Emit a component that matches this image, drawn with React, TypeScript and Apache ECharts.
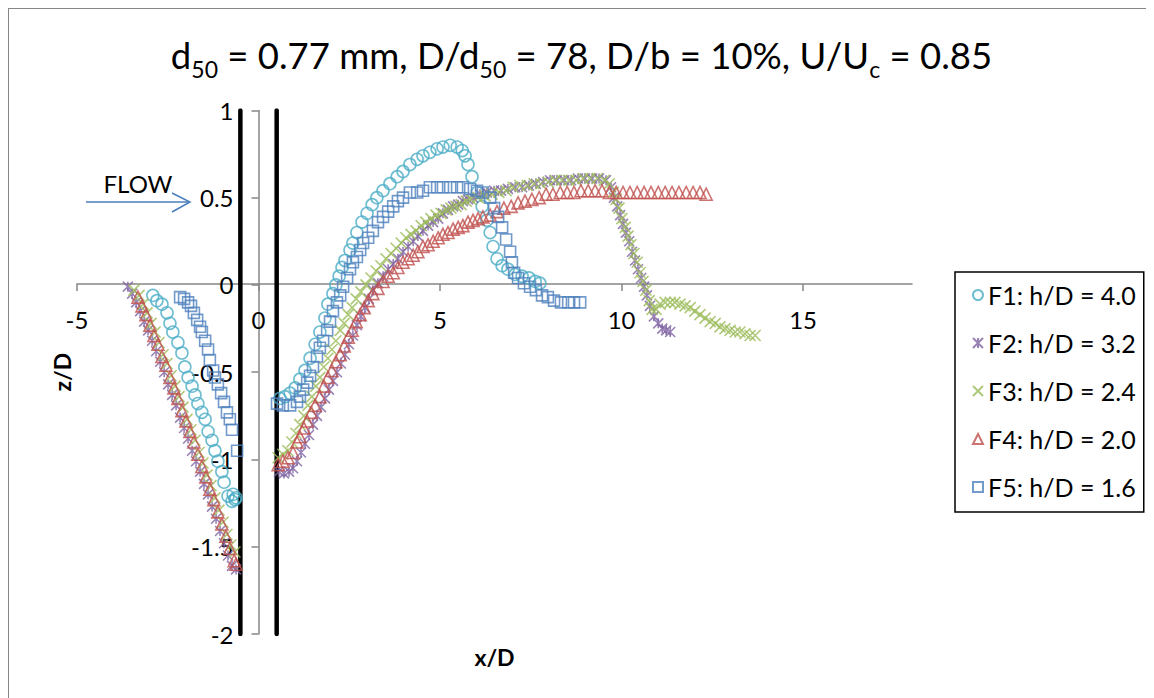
import React, { useEffect, useRef } from "react";
import * as echarts from "echarts";

// ---------- data (x/D, z/D) ----------
const f1Up: number[][] = [
  [-2.91, -0.06], [-2.8, -0.09], [-2.66, -0.11], [-2.52, -0.16], [-2.44, -0.22], [-2.36, -0.27],
  [-2.22, -0.33], [-2.11, -0.39], [-2.03, -0.47], [-1.94, -0.53], [-1.83, -0.58], [-1.75, -0.63],
  [-1.67, -0.68], [-1.56, -0.73], [-1.47, -0.77], [-1.39, -0.84], [-1.28, -0.89], [-1.2, -0.95],
  [-1.12, -1.01], [-1.01, -1.07], [-0.95, -1.13], [-0.84, -1.21], [-0.73, -1.24], [-0.7, -1.2],
  [-0.65, -1.23], [-0.62, -1.22],
];
const f1Down: number[][] = [
  [0.59, -0.65], [0.73, -0.64], [0.87, -0.62], [1.01, -0.59], [1.14, -0.54], [1.28, -0.49],
  [1.42, -0.42], [1.56, -0.34], [1.69, -0.27], [1.83, -0.19], [1.91, -0.11], [2.05, -0.05],
  [2.13, 0.0], [2.22, 0.05], [2.3, 0.1], [2.38, 0.14], [2.52, 0.2], [2.6, 0.24], [2.71, 0.3],
  [2.85, 0.36], [2.99, 0.41], [3.13, 0.46], [3.26, 0.5], [3.43, 0.54], [3.62, 0.58], [3.82, 0.62],
  [3.98, 0.65], [4.17, 0.69], [4.37, 0.72], [4.53, 0.74], [4.72, 0.76], [4.92, 0.78], [5.08, 0.79],
  [5.28, 0.8], [5.47, 0.79], [5.61, 0.77], [5.69, 0.74], [5.77, 0.69], [5.88, 0.62], [6.02, 0.53],
  [6.16, 0.45], [6.29, 0.37], [6.38, 0.3], [6.46, 0.22], [6.57, 0.15], [6.71, 0.11], [6.87, 0.09],
  [7.07, 0.06], [7.26, 0.05], [7.45, 0.04], [7.62, 0.02], [7.75, 0.01],
];
const f2Up: number[][] = [
  [-3.6, -0.01], [-3.48, -0.05], [-3.37, -0.1], [-3.26, -0.15], [-3.15, -0.21], [-3.04, -0.26],
  [-2.93, -0.32], [-2.82, -0.38], [-2.71, -0.44], [-2.6, -0.5], [-2.49, -0.57], [-2.38, -0.63],
  [-2.27, -0.69], [-2.16, -0.76], [-2.05, -0.82], [-1.94, -0.88], [-1.83, -0.95], [-1.72, -1.01],
  [-1.61, -1.07], [-1.5, -1.14], [-1.39, -1.2], [-1.28, -1.27], [-1.17, -1.34], [-1.06, -1.41],
  [-0.95, -1.48], [-0.84, -1.55], [-0.73, -1.61], [-0.62, -1.63],
];
const f2Down: number[][] = [
  [0.56, -1.07], [0.7, -1.08], [0.84, -1.07], [0.95, -1.05], [1.06, -1.01], [1.17, -0.96],
  [1.28, -0.91], [1.39, -0.86], [1.5, -0.8], [1.61, -0.75], [1.72, -0.7], [1.83, -0.65],
  [1.94, -0.6], [2.05, -0.55], [2.16, -0.5], [2.27, -0.45], [2.38, -0.4], [2.49, -0.34],
  [2.6, -0.29], [2.71, -0.23], [2.82, -0.18], [2.93, -0.13], [3.04, -0.08], [3.15, -0.03],
  [3.29, 0.01], [3.43, 0.05], [3.57, 0.09], [3.71, 0.12], [3.84, 0.15], [3.98, 0.19], [4.12, 0.22],
  [4.26, 0.25], [4.39, 0.28], [4.53, 0.31], [4.67, 0.34], [4.81, 0.36], [4.95, 0.38], [5.08, 0.41],
  [5.22, 0.43], [5.36, 0.45], [5.5, 0.46], [5.63, 0.48], [5.77, 0.49], [5.91, 0.5], [6.1, 0.52],
  [6.29, 0.53], [6.49, 0.54], [6.68, 0.54], [6.87, 0.55], [7.07, 0.56], [7.26, 0.56], [7.45, 0.57],
  [7.64, 0.58], [7.84, 0.59], [8.03, 0.6], [8.22, 0.6], [8.42, 0.6], [8.61, 0.6], [8.8, 0.61],
  [8.99, 0.61], [9.19, 0.61], [9.38, 0.61], [9.57, 0.6], [9.71, 0.56], [9.79, 0.5], [9.88, 0.45],
  [9.96, 0.4], [10.04, 0.35], [10.12, 0.3], [10.21, 0.25], [10.29, 0.19], [10.37, 0.14],
  [10.45, 0.09], [10.54, 0.04], [10.62, -0.01], [10.7, -0.06], [10.78, -0.12], [10.89, -0.18],
  [11.01, -0.22], [11.12, -0.25], [11.23, -0.26], [11.34, -0.27],
];
const f3Up: number[][] = [
  [-3.43, -0.03], [-3.29, -0.06], [-3.18, -0.11], [-3.07, -0.16], [-2.96, -0.22], [-2.85, -0.27],
  [-2.74, -0.33], [-2.63, -0.4], [-2.52, -0.45], [-2.41, -0.52], [-2.3, -0.58], [-2.19, -0.64],
  [-2.08, -0.7], [-1.97, -0.77], [-1.86, -0.83], [-1.75, -0.89], [-1.64, -0.96], [-1.53, -1.02],
  [-1.42, -1.09], [-1.31, -1.15], [-1.2, -1.22], [-1.09, -1.29], [-0.98, -1.36], [-0.87, -1.43],
  [-0.76, -1.49], [-0.65, -1.53],
];
const f3Down: number[][] = [
  [0.54, -0.99], [0.67, -0.97], [0.81, -0.95], [0.92, -0.9], [1.03, -0.85], [1.14, -0.8],
  [1.25, -0.75], [1.36, -0.69], [1.47, -0.64], [1.58, -0.58], [1.69, -0.53], [1.8, -0.47],
  [1.91, -0.42], [2.02, -0.37], [2.13, -0.32], [2.25, -0.26], [2.36, -0.22], [2.47, -0.17],
  [2.58, -0.13], [2.69, -0.08], [2.82, -0.04], [2.96, 0.0], [3.1, 0.04], [3.24, 0.08], [3.37, 0.11],
  [3.51, 0.15], [3.65, 0.18], [3.79, 0.21], [3.93, 0.24], [4.06, 0.27], [4.2, 0.29], [4.34, 0.31],
  [4.48, 0.34], [4.61, 0.36], [4.75, 0.38], [4.89, 0.4], [5.03, 0.41], [5.17, 0.43], [5.3, 0.44],
  [5.44, 0.45], [5.58, 0.46], [5.72, 0.48], [5.85, 0.49], [6.05, 0.5], [6.24, 0.51], [6.43, 0.52],
  [6.62, 0.53], [6.82, 0.54], [7.01, 0.56], [7.2, 0.57], [7.4, 0.57], [7.59, 0.58], [7.78, 0.58],
  [7.98, 0.59], [8.17, 0.6], [8.36, 0.6], [8.55, 0.6], [8.75, 0.6], [8.94, 0.61], [9.13, 0.61],
  [9.33, 0.61], [9.52, 0.6], [9.66, 0.58], [9.77, 0.53], [9.85, 0.49], [9.93, 0.44], [10.01, 0.38],
  [10.1, 0.33], [10.18, 0.28], [10.26, 0.23], [10.34, 0.18], [10.43, 0.13], [10.51, 0.07],
  [10.59, 0.02], [10.67, -0.03], [10.76, -0.09], [10.84, -0.14], [10.95, -0.14], [11.06, -0.11],
  [11.2, -0.1], [11.34, -0.1], [11.47, -0.1], [11.61, -0.11], [11.75, -0.12], [11.89, -0.13],
  [12.02, -0.15], [12.16, -0.17], [12.3, -0.19], [12.44, -0.21], [12.58, -0.22], [12.71, -0.24],
  [12.85, -0.25], [12.99, -0.26], [13.13, -0.27], [13.26, -0.27], [13.4, -0.28], [13.54, -0.29],
  [13.68, -0.29],
];
const f4Up: number[][] = [
  [-3.32, -0.07], [-3.21, -0.12], [-3.1, -0.17], [-2.99, -0.23], [-2.88, -0.29], [-2.77, -0.34],
  [-2.66, -0.41], [-2.55, -0.46], [-2.44, -0.53], [-2.33, -0.59], [-2.22, -0.65], [-2.11, -0.72],
  [-2.0, -0.78], [-1.89, -0.84], [-1.78, -0.9], [-1.67, -0.97], [-1.56, -1.04], [-1.45, -1.1],
  [-1.34, -1.17], [-1.23, -1.23], [-1.12, -1.3], [-1.01, -1.37], [-0.9, -1.44], [-0.79, -1.51],
  [-0.67, -1.58], [-0.62, -1.6],
];
const f4Down: number[][] = [
  [0.54, -1.03], [0.67, -1.01], [0.81, -0.99], [0.95, -0.96], [1.06, -0.9], [1.14, -0.87],
  [1.25, -0.82], [1.34, -0.78], [1.45, -0.73], [1.56, -0.69], [1.69, -0.64], [1.8, -0.58],
  [1.91, -0.53], [2.02, -0.49], [2.13, -0.44], [2.25, -0.4], [2.36, -0.35], [2.47, -0.3],
  [2.58, -0.26], [2.69, -0.21], [2.8, -0.17], [2.91, -0.13], [3.02, -0.09], [3.15, -0.05],
  [3.29, -0.02], [3.43, 0.02], [3.57, 0.05], [3.71, 0.07], [3.84, 0.1], [3.98, 0.13], [4.12, 0.15],
  [4.26, 0.17], [4.39, 0.19], [4.53, 0.22], [4.67, 0.23], [4.81, 0.25], [4.95, 0.27], [5.08, 0.29],
  [5.22, 0.3], [5.36, 0.32], [5.5, 0.33], [5.63, 0.34], [5.77, 0.36], [5.91, 0.37], [6.05, 0.38],
  [6.18, 0.39], [6.38, 0.4], [6.57, 0.42], [6.76, 0.44], [6.96, 0.45], [7.15, 0.47], [7.34, 0.48],
  [7.53, 0.49], [7.73, 0.5], [7.92, 0.52], [8.11, 0.52], [8.31, 0.53], [8.5, 0.53], [8.69, 0.53],
  [8.88, 0.54], [9.08, 0.54], [9.27, 0.54], [9.46, 0.54], [9.66, 0.53], [9.85, 0.53], [10.04, 0.53],
  [10.23, 0.53], [10.43, 0.53], [10.62, 0.53], [10.81, 0.53], [11.01, 0.53], [11.2, 0.53],
  [11.39, 0.53], [11.58, 0.53], [11.78, 0.53], [11.97, 0.53], [12.16, 0.53], [12.33, 0.52],
];
const f5Up: number[][] = [
  [-2.16, -0.07], [-2.05, -0.08], [-1.94, -0.1], [-1.86, -0.12], [-1.78, -0.16], [-1.69, -0.2],
  [-1.61, -0.24], [-1.56, -0.27], [-1.47, -0.32], [-1.39, -0.37], [-1.34, -0.43], [-1.25, -0.49],
  [-1.2, -0.53], [-1.12, -0.57], [-1.03, -0.62], [-0.95, -0.67], [-0.87, -0.73], [-0.79, -0.77],
  [-0.73, -0.83], [-0.59, -0.95],
];
const f5Down: number[][] = [
  [0.51, -0.68], [0.67, -0.69], [0.87, -0.69], [1.06, -0.67], [1.14, -0.64], [1.23, -0.6],
  [1.34, -0.56], [1.42, -0.52], [1.5, -0.47], [1.61, -0.41], [1.69, -0.36], [1.78, -0.32],
  [1.89, -0.26], [1.97, -0.21], [2.05, -0.15], [2.16, -0.1], [2.25, -0.06], [2.33, -0.01],
  [2.44, 0.04], [2.52, 0.09], [2.6, 0.13], [2.71, 0.16], [2.8, 0.2], [2.88, 0.24], [3.02, 0.27],
  [3.15, 0.31], [3.29, 0.36], [3.43, 0.39], [3.57, 0.42], [3.71, 0.45], [3.84, 0.48], [3.98, 0.5],
  [4.17, 0.53], [4.37, 0.53], [4.53, 0.54], [4.72, 0.56], [4.92, 0.56], [5.08, 0.56], [5.28, 0.56],
  [5.47, 0.56], [5.63, 0.56], [5.83, 0.55], [6.02, 0.54], [6.18, 0.53], [6.38, 0.5], [6.49, 0.44],
  [6.6, 0.39], [6.71, 0.33], [6.82, 0.26], [6.93, 0.19], [6.98, 0.13], [7.04, 0.07], [7.15, 0.04],
  [7.31, 0.01], [7.48, -0.01], [7.64, -0.03], [7.81, -0.06], [7.97, -0.07], [8.14, -0.09],
  [8.33, -0.1], [8.53, -0.1], [8.69, -0.1], [8.86, -0.1],
];

const seriesNames = [
  "F1: h/D = 4.0",
  "F2: h/D = 3.2",
  "F3: h/D = 2.4",
  "F4: h/D = 2.0",
  "F5: h/D = 1.6",
];
const seriesColors = ["#4BACC6", "#8064A2", "#9BBB59", "#C0504D", "#4F81BD"];
const pierLeft: number[][] = [[-0.5, 1], [-0.5, -2]];
const pierRight: number[][] = [[0.5, 1], [0.5, -2]];
const xTicks = [-5, 0, 5, 10, 15];

const FONT = "Lato, 'Open Sans', sans-serif";

export default function App() {
  const ref = useRef<HTMLDivElement>(null);
  useEffect(() => {
    if (!ref.current) return;
    const chart = echarts.init(ref.current, undefined, { renderer: "svg" });
    const symbols = [
      "circle",
      "path://M0,0L10,10M10,0L0,10M5,0L5,10",
      "path://M0,0L10,10M10,0L0,10",
      "triangle",
      "rect",
    ];
    const sizes = [12, 10, 11, 12, 11];
    const dataSets = [
      [...f1Up, ...f1Down],
      [...f2Up, ...f2Down],
      [...f3Up, ...f3Down],
      [...f4Up, ...f4Down],
      [...f5Up, ...f5Down],
    ];
    const scatter = seriesNames.map((name, i) => ({
      name,
      type: "scatter",
      data: dataSets[i],
      symbol: symbols[i],
      symbolSize: sizes[i],
      silent: true,
      itemStyle: {
        color: "rgba(0,0,0,0)",
        borderColor: seriesColors[i],
        borderWidth: 1.6,
      },
    }));
    const pier = [pierLeft, pierRight].map((d, i) => ({
      name: "pier" + i,
      type: "line",
      data: d,
      symbol: "none",
      silent: true,
      lineStyle: { color: "#000", width: 4.5, cap: "round" },
      z: 1,
    }));
    chart.setOption({
      animation: false,
      backgroundColor: "#fff",
      textStyle: { fontFamily: FONT },
      title: {
        left: "center",
        top: 16,
        text:
          "{a|d}{s|50}{a| = 0.77 mm, D/d}{s|50}{a| = 78, D/b = 10%, U/U}{s|c}{a| = 0.85}",
        textStyle: {
          fontWeight: "normal",
          rich: {
            a: { fontSize: 36.5, fontWeight: "normal", fontFamily: FONT, color: "#000", lineHeight: 50, verticalAlign: "middle" },
            s: { fontSize: 23, fontWeight: "normal", fontFamily: FONT, color: "#000", lineHeight: 50, verticalAlign: "bottom" },
          },
        },
      },
      legend: {
        orient: "vertical",
        left: 946,
        top: 263,
        itemGap: 23,
        itemWidth: 10,
        itemHeight: 10,
        padding: [10.5, 8, 12.5, 17],
        borderColor: "#000",
        borderWidth: 1.5,
        textStyle: { fontSize: 25, color: "#000", fontFamily: FONT },
        data: seriesNames,
      },
      grid: {
        left: 68,
        right: 242,
        top: 101.4,
        bottom: 64,
        outerBoundsMode: "none",
      },
      xAxis: {
        type: "value",
        position: "bottom",
        offset: -350,
        min: -5,
        max: 18,
        interval: 5,
        name: "x/D",
        nameLocation: "middle",
        nameGap: 361,
        nameTextStyle: { fontSize: 23, fontWeight: "bold", color: "#000", fontFamily: FONT },
        axisLine: { onZero: false, lineStyle: { color: "#868686", width: 1.5 } },
        axisTick: { show: true, length: 7, customValues: xTicks, lineStyle: { color: "#868686", width: 1.5 } },
        axisLabel: { margin: 23, fontSize: 24, color: "#000", fontFamily: FONT, customValues: xTicks },
        splitLine: { show: false },
      },
      yAxis: {
        type: "value",
        position: "left",
        offset: -181.5,
        min: -2,
        max: 1,
        interval: 0.5,
        name: "z/D",
        nameLocation: "middle",
        nameGap: 185,
        nameTextStyle: { fontSize: 23, fontWeight: "bold", color: "#000", fontFamily: FONT },
        axisLine: { onZero: false, lineStyle: { color: "#868686", width: 1.5 } },
        axisTick: { show: true, length: 7, lineStyle: { color: "#868686", width: 1.5 } },
        axisLabel: { margin: 25, fontSize: 24, color: "#000", fontFamily: FONT },
        splitLine: { show: false },
      },
      graphic: [
        {
          type: "text",
          x: 129,
          y: 174,
          style: {
            text: "FLOW",
            fontSize: 24,
            fontFamily: FONT,
            fill: "#000",
            align: "center",
            verticalAlign: "middle",
          },
        },
        {
          type: "polyline",
          shape: { points: [[77, 193], [181, 193]] },
          style: { stroke: "#4A7EBB", lineWidth: 1.5, fill: null },
        },
        {
          type: "polyline",
          shape: { points: [[163, 184], [181, 193], [163, 203]] },
          style: { stroke: "#4A7EBB", lineWidth: 1.5, fill: null },
        },
      ],
      series: [...pier, ...scatter],
    });
    return () => chart.dispose();
  }, []);
  return (
    <div
      style={{
        width: 1146,
        height: 690,
        borderTop: "1px solid #868686",
        borderLeft: "1px solid #868686",
        boxSizing: "border-box",
      }}
    >
      <div ref={ref} style={{ width: 1145, height: 689 }} />
    </div>
  );
}
